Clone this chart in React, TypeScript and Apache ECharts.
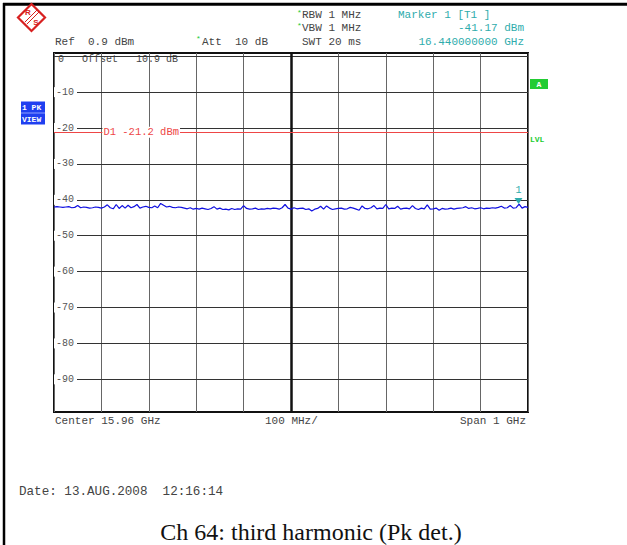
import React, { useEffect, useRef } from "react";
import * as echarts from "echarts";

// ---- data ----
const FREQ_START_MHZ = 15460;
const FREQ_STOP_MHZ = 16460;
const FREQ_DIV_MHZ = 100;
const CENTER_FREQ_MHZ = 15960;
const REF_LEVEL_DBM = 0.9;
const BOTTOM_LEVEL_DBM = -99.1;
const LEVEL_GRID = [0, -10, -20, -30, -40, -50, -60, -70, -80, -90];
const LEVEL_LABELS = [-10, -20, -30, -40, -50, -60, -70, -80, -90];
const D1_LEVEL_DBM = -21.2;
const MARKER_FREQ_MHZ = 16440;
const MARKER_LEVEL_DBM = -41.17;

const TRACE_DBM = [
  -42.0, -41.9, -42.0, -42.1, -42.0, -41.9, -42.2, -42.1, -41.6, -42.2, -42.0, -42.1, -42.3, -42.2, -42.0, -42.1,
  -42.3, -42.0, -41.4, -42.2, -42.5, -41.3, -42.4, -41.6, -42.3, -41.5, -42.2, -41.9, -41.3, -42.3, -42.0, -41.8,
  -42.1, -42.2, -41.7, -42.2, -41.0, -41.5, -42.0, -41.8, -42.1, -42.2, -42.0, -42.1, -42.3, -42.5, -42.2, -42.6,
  -42.4, -42.6, -42.3, -42.5, -42.7, -42.4, -41.9, -42.6, -42.3, -42.7, -42.6, -42.8, -42.4, -42.7, -42.5, -42.6,
  -41.6, -42.4, -42.6, -42.5, -42.3, -42.7, -42.5, -42.6, -42.4, -42.5, -42.3, -42.4, -42.6, -42.2, -41.3, -42.3,
  -42.6, -42.2, -42.5, -42.4, -42.3, -42.7, -42.5, -43.1, -42.6, -42.4, -41.8, -42.6, -41.7, -42.3, -42.7, -42.5,
  -42.4, -42.3, -42.6, -42.5, -42.1, -42.3, -42.6, -42.9, -41.7, -42.4, -42.5, -42.2, -41.6, -42.5, -42.3, -42.4,
  -41.3, -42.5, -42.3, -42.4, -41.8, -42.6, -42.4, -42.3, -42.5, -41.6, -42.4, -42.7, -42.3, -42.5, -41.4, -42.6,
  -42.5, -42.3, -42.9, -42.4, -42.6, -42.5, -42.3, -42.6, -42.4, -42.3, -42.2, -41.9, -42.4, -42.2, -42.5, -42.4,
  -42.2, -42.5, -42.3, -42.4, -42.2, -42.3, -42.1, -41.8, -42.3, -42.2, -41.6, -42.3, -42.2, -41.17, -42.3, -41.9,
  -42.1,
];

const HEADER_LEFT = ["Ref  0.9 dBm", "Att  10 dB"];
const HEADER_SETTINGS = ["RBW 1 MHz", "VBW 1 MHz", "SWT 20 ms"];
const HEADER_MARKER = ["Marker 1 [T1 ]", "-41.17 dBm", "16.440000000 GHz"];
const FOOTER = ["Center 15.96 GHz", "100 MHz/", "Span 1 GHz"];
const OFFSET_TEXT = "0   Offset   10.9 dB";
const D1_TEXT = "D1 -21.2 dBm";
const DATE_TEXT = "Date: 13.AUG.2008  12:16:14";
const CAPTION = "Ch 64: third harmonic (Pk det.)";

const MONO = '"Liberation Mono", "DejaVu Sans Mono", monospace';
const TEXT_GRAY = "#444";
const TEAL = "#2eacac";
const GREEN = "#22cc33";
const RED = "#ee4646";
const BLUE = "#1010e0";
const LOGO_RED = "#d82020";

export default function App() {
  const ref = useRef<HTMLDivElement>(null);

  useEffect(() => {
    if (!ref.current) return;
    const chart = echarts.init(ref.current, null, { renderer: "svg" });
    const step = (FREQ_STOP_MHZ - FREQ_START_MHZ) / (TRACE_DBM.length - 1);
    const traceData = TRACE_DBM.map((v, i) => [FREQ_START_MHZ + i * step, v]);

    const txt = (text: string, x: number, y: number, extra: any = {}) => ({
      type: "text",
      x,
      y,
      silent: true,
      style: {
        text,
        fill: TEXT_GRAY,
        font: `11px ${MONO}`,
        verticalAlign: "middle",
        align: "left",
        ...extra,
      },
    });

    chart.setOption({
      animation: false,
      backgroundColor: "#fff",
      grid: {
        left: 54,
        top: 53,
        width: 474,
        height: 359,
        show: true,
        borderColor: "#111",
        borderWidth: 2,
        backgroundColor: "transparent",
      },
      xAxis: {
        type: "value",
        min: FREQ_START_MHZ,
        max: FREQ_STOP_MHZ,
        interval: FREQ_DIV_MHZ,
        axisLabel: { show: false },
        axisTick: { show: false },
        axisLine: { show: false },
        splitLine: { show: true, lineStyle: { color: "#666", width: 1 } },
      },
      yAxis: {
        type: "value",
        min: BOTTOM_LEVEL_DBM,
        max: REF_LEVEL_DBM,
        axisLabel: { show: false },
        axisTick: { show: false },
        axisLine: { show: false },
        splitLine: { show: false },
      },
      series: [
        {
          type: "line",
          data: [],
          z: 1,
          silent: true,
          markLine: {
            silent: true,
            z: 1,
            symbol: ["none", "none"],
            label: { show: false },
            lineStyle: { color: "#333", width: 1, type: "solid" },
            emphasis: { disabled: true },
            data: [
              ...LEVEL_GRID.map((v) => ({ yAxis: v })),
              { xAxis: CENTER_FREQ_MHZ, lineStyle: { color: "#111", width: 2.5, type: "solid" } },
            ],
          },
          markPoint: {
            silent: true,
            z: 2,
            symbol: "rect",
            symbolSize: 0,
            label: {
              show: true,
              position: "right",
              distance: 0,
              formatter: (p: any) => String(p.value),
              color: "#555",
              fontSize: 10,
              fontFamily: MONO,
              backgroundColor: "#fff",
              padding: [0, 3, 0, 2],
            },
            data: LEVEL_LABELS.map((v) => ({ coord: [FREQ_START_MHZ, v], value: v })),
          },
        },
        {
          type: "line",
          z: 3,
          data: traceData,
          showSymbol: false,
          symbol: "none",
          silent: true,
          lineStyle: { color: BLUE, width: 1.2 },
          markLine: {
            silent: true,
            z: 3,
            symbol: ["none", "none"],
            label: { show: false },
            lineStyle: { color: RED, width: 1.2, type: "solid" },
            data: [{ yAxis: D1_LEVEL_DBM }],
          },
          markPoint: {
            silent: true,
            z: 6,
            data: [
              {
                coord: [MARKER_FREQ_MHZ, MARKER_LEVEL_DBM],
                symbol: "triangle",
                symbolRotate: 180,
                symbolSize: [8, 6],
                symbolOffset: [0, "-50%"],
                itemStyle: { color: TEAL },
                label: {
                  show: true,
                  formatter: "1",
                  position: "top",
                  distance: 3,
                  color: TEAL,
                  fontSize: 10,
                  fontFamily: MONO,
                },
              },
              {
                coord: [FREQ_START_MHZ + FREQ_DIV_MHZ, D1_LEVEL_DBM],
                symbol: "rect",
                symbolSize: 0,
                itemStyle: { color: "transparent" },
                label: {
                  show: true,
                  formatter: D1_TEXT,
                  position: "right",
                  distance: 1,
                  color: RED,
                  fontSize: 10.5,
                  fontFamily: MONO,
                  backgroundColor: "#fff",
                  padding: [0, 1, 0, 1],
                },
              },
            ],
          },
        },
      ],
      graphic: [
        // outer frame
        { type: "line", silent: true, shape: { x1: 4, y1: 3, x2: 4, y2: 545 }, style: { stroke: "#000", lineWidth: 2.5 } },
        { type: "line", silent: true, shape: { x1: 3, y1: 4.2, x2: 627, y2: 4.2 }, style: { stroke: "#000", lineWidth: 3 } },
        // logo: diamond with a band between R and S
        {
          type: "polygon",
          silent: true,
          shape: { points: [[31.5, 4], [45, 17.5], [31.5, 31], [18, 17.5]] },
          style: { fill: "#fff", stroke: LOGO_RED, lineWidth: 2.2 },
        },
        { type: "line", silent: true, shape: { x1: 25, y1: 22, x2: 37, y2: 10 }, style: { stroke: LOGO_RED, lineWidth: 1 } },
        { type: "line", silent: true, shape: { x1: 27, y1: 24, x2: 39, y2: 12 }, style: { stroke: LOGO_RED, lineWidth: 1 } },
        { type: "text", x: 28, y: 12.5, silent: true, style: { text: "R", fill: LOGO_RED, font: "bold 8px Arial, sans-serif", align: "center", verticalAlign: "middle" } },
        { type: "text", x: 36, y: 22.5, silent: true, style: { text: "S", fill: LOGO_RED, font: "bold 8px Arial, sans-serif", align: "center", verticalAlign: "middle" } },
        // header
        txt(HEADER_LEFT[0], 55, 41.5),
        txt("*", 196, 38, { fill: GREEN, font: `8px ${MONO}` }),
        txt(HEADER_LEFT[1], 202, 41.5),
        txt("*", 297, 12.5, { fill: GREEN, font: `8px ${MONO}` }),
        txt(HEADER_SETTINGS[0], 302, 15),
        txt("*", 297, 25.5, { fill: GREEN, font: `8px ${MONO}` }),
        txt(HEADER_SETTINGS[1], 302, 28.3),
        txt(HEADER_SETTINGS[2], 302, 41.5),
        txt(HEADER_MARKER[0], 398, 15, { fill: TEAL }),
        txt(HEADER_MARKER[1], 524, 28.3, { fill: TEAL, align: "right" }),
        txt(HEADER_MARKER[2], 524, 41.5, { fill: TEAL, align: "right" }),
        // inside top-left
        txt(OFFSET_TEXT, 58, 59, { font: `10px ${MONO}` }),
        // left status box
        { type: "rect", silent: true, shape: { x: 21, y: 101.5, width: 24, height: 23 }, style: { fill: "#1f3ff0" } },
        { type: "line", silent: true, shape: { x1: 21, y1: 113, x2: 45, y2: 113 }, style: { stroke: "#8fa0ff", lineWidth: 1 } },
        txt("1 PK", 22, 107.5, { fill: "#fff", font: `bold 8px ${MONO}` }),
        txt("VIEW", 22, 119, { fill: "#fff", font: `bold 8px ${MONO}` }),
        // right status
        { type: "rect", silent: true, shape: { x: 530, y: 79, width: 18, height: 10 }, style: { fill: GREEN } },
        txt("A", 539, 84.5, { fill: "#fff", font: `bold 8px ${MONO}`, align: "center" }),
        txt("LVL", 530, 139, { fill: GREEN, font: `bold 8px ${MONO}` }),
        // footer
        txt(FOOTER[0], 55, 421),
        txt(FOOTER[1], 265, 421),
        txt(FOOTER[2], 526, 421, { align: "right" }),
        txt(DATE_TEXT, 19, 492, { font: `12.6px ${MONO}` }),
        {
          type: "text",
          x: 311,
          y: 532,
          silent: true,
          style: {
            text: CAPTION,
            fill: "#111",
            font: '24px "Liberation Serif", "DejaVu Serif", serif',
            align: "center",
            verticalAlign: "middle",
          },
        },
      ],
    });

    return () => chart.dispose();
  }, []);

  return (
    <div
      ref={ref}
      style={{ position: "absolute", left: 0, top: 0, width: 627, height: 545, background: "#fff" }}
    />
  );
}
